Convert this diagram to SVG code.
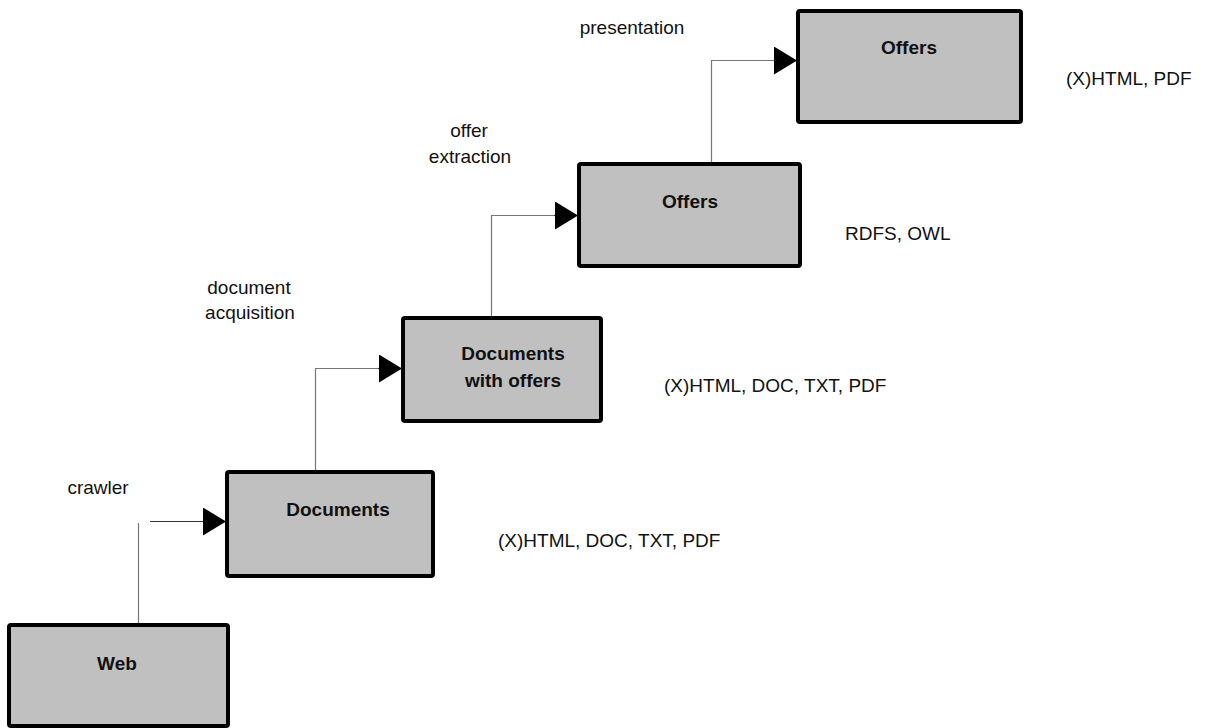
<svg xmlns="http://www.w3.org/2000/svg" width="1207" height="728" viewBox="0 0 1207 728">
<style>
.box{fill:#c0c0c0;stroke:#000;stroke-width:4;}
.t{font-family:"Liberation Sans",Arial,sans-serif;font-size:19px;font-weight:bold;fill:#111;text-anchor:middle;}
.l{font-family:"Liberation Sans",Arial,sans-serif;font-size:19px;fill:#111;}
.c{text-anchor:middle;}
.v{fill:none;stroke:#777;stroke-width:1.2;}
.h{fill:none;stroke:#333;stroke-width:1.2;}
</style>
<defs>
<marker id="arr" markerUnits="userSpaceOnUse" markerWidth="24" markerHeight="30" refX="23" refY="14" orient="auto" viewBox="0 0 24 30">
<path d="M0,0 L23,14 L0,28 Z" fill="#000"/>
</marker>
</defs>
<rect width="1207" height="728" fill="#fff"/>
<g id="connectors">
<path class="v" d="M138.5,624 V523"/>
<path class="h" d="M150,521.5 H226" marker-end="url(#arr)"/>
<path class="v" d="M315.5,471 V368.5 H380"/>
<path class="h" d="M378,368.5 H402" marker-end="url(#arr)"/>
<path class="v" d="M491.5,317 V215.5 H556"/>
<path class="h" d="M554,215.5 H578" marker-end="url(#arr)"/>
<path class="v" d="M711.5,163 V60.5 H776"/>
<path class="h" d="M774,60.5 H797" marker-end="url(#arr)"/>
</g>
<g id="web">
<rect class="box" x="9" y="625" width="219" height="101" rx="2"/>
<text class="t" x="117" y="670">Web</text>
</g>
<g id="documents">
<rect class="box" x="227" y="472" width="206" height="104" rx="2"/>
<text class="t" x="338" y="516">Documents</text>
</g>
<g id="docs-with-offers">
<rect class="box" x="403" y="318" width="198" height="103" rx="2"/>
<text class="t" x="513" y="360">Documents</text>
<text class="t" x="513" y="387">with offers</text>
</g>
<g id="offers-mid">
<rect class="box" x="579" y="164" width="221" height="102" rx="2"/>
<text class="t" x="690" y="208">Offers</text>
</g>
<g id="offers-top">
<rect class="box" x="798" y="11" width="223" height="111" rx="2"/>
<text class="t" x="909" y="54">Offers</text>
</g>
<g id="labels">
<text class="l c" x="98" y="494">crawler</text>
<text class="l c" x="249" y="294">document</text>
<text class="l c" x="250" y="319">acquisition</text>
<text class="l c" x="469" y="137">offer</text>
<text class="l c" x="470" y="163">extraction</text>
<text class="l c" x="632" y="34">presentation</text>
<text class="l" x="498" y="547">(X)HTML, DOC, TXT, PDF</text>
<text class="l" x="664" y="392">(X)HTML, DOC, TXT, PDF</text>
<text class="l" x="845" y="240">RDFS, OWL</text>
<text class="l" x="1066" y="85">(X)HTML, PDF</text>
</g>
</svg>
